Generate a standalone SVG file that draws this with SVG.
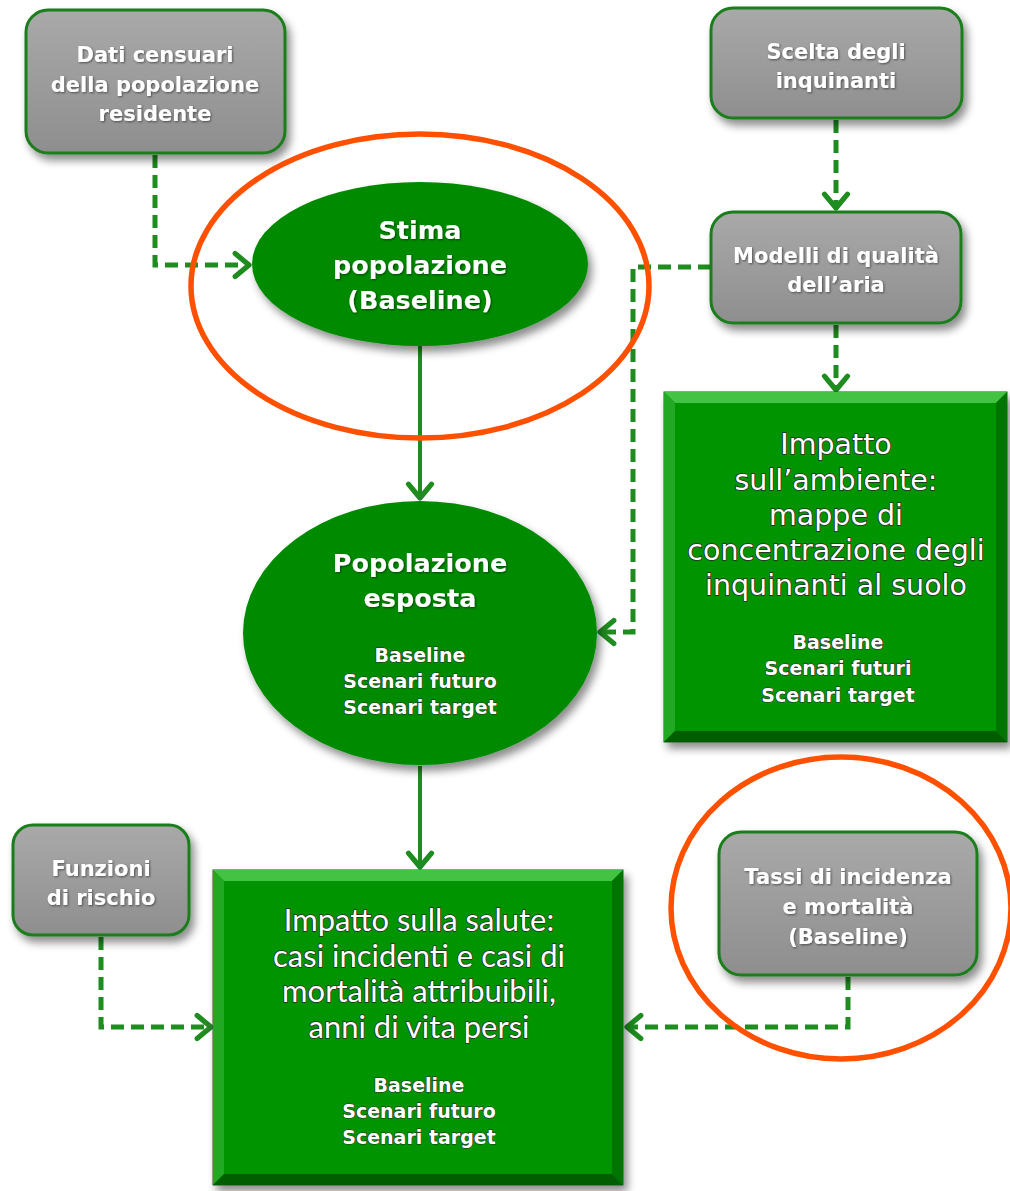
<svg xmlns="http://www.w3.org/2000/svg" width="1010" height="1191" viewBox="0 0 1010 1191">
<style>
.gray{fill:url(#gg);stroke:#1b7d1b;stroke-width:3}
.t{font-family:"DejaVu Sans",Verdana,sans-serif;fill:#fff;text-anchor:middle}
.gt{font-size:21px;font-weight:bold}
.et{font-size:25.5px;font-weight:bold}
.bt{font-size:28.5px;stroke:#2a2a2a;stroke-width:1.6px;paint-order:stroke}
.lt{font-size:19px;font-weight:bold;stroke:#2a2a2a;stroke-width:1.1px;paint-order:stroke}
.st{font-family:Lato,"Open Sans",sans-serif;fill:#fff;text-anchor:middle;font-size:31px;stroke:#2a2a2a;stroke-width:1.5px;paint-order:stroke}
.dash{fill:none;stroke:#1e8c1e;stroke-width:5;stroke-dasharray:13 7}
.solid{fill:none;stroke:#1e8c1e;stroke-width:4}
.red{fill:none;stroke:#ff5000;stroke-width:5.5}
</style>
<defs>
<linearGradient id="gg" x1="0" y1="0" x2="0" y2="1">
<stop offset="0" stop-color="#a9a9a9"/>
<stop offset="0.5" stop-color="#9c9c9c"/>
<stop offset="1" stop-color="#8e8e8e"/>
</linearGradient>
<filter id="sh" x="-20%" y="-20%" width="150%" height="150%">
<feDropShadow dx="4" dy="6" stdDeviation="4" flood-color="#000" flood-opacity="0.45"/>
</filter>
<filter id="tsh" x="-10%" y="-20%" width="120%" height="150%">
<feDropShadow dx="1" dy="1" stdDeviation="1" flood-color="#000" flood-opacity="0.5"/>
</filter>
<marker id="ar" markerUnits="userSpaceOnUse" markerWidth="30" markerHeight="30" viewBox="-16 -13 20 26" refX="0" refY="0" orient="auto">
<path d="M-12,-10 L0,0 L-12,10" fill="none" stroke="#1e8c1e" stroke-width="4.5" stroke-linecap="round" stroke-linejoin="round" stroke-dasharray="none"/>
</marker>
</defs>
<rect width="1010" height="1191" fill="#fff"/>

<g id="connectors">
<path class="dash" d="M155,155 V265 H249" marker-end="url(#ar)"/>
<path class="dash" d="M836,120 V208" marker-end="url(#ar)"/>
<path class="dash" d="M711,267 H633 V632 H600" marker-end="url(#ar)"/>
<path class="dash" d="M836,325 V390" marker-end="url(#ar)"/>
<path class="solid" d="M420,346 V498" marker-end="url(#ar)"/>
<path class="solid" d="M420,766 V867" marker-end="url(#ar)"/>
<path class="dash" d="M101,937 V1027 H211" marker-end="url(#ar)"/>
<path class="dash" d="M848,977 V1027 H627" marker-end="url(#ar)"/>
</g>

<g id="dati-censuari">
<rect class="gray" x="26" y="10" width="259" height="143" rx="22" filter="url(#sh)"/>
<g class="t gt" filter="url(#tsh)">
<text x="155" y="62">Dati censuari</text>
<text x="155" y="92">della popolazione</text>
<text x="155" y="121">residente</text>
</g>
</g>

<g id="scelta-inquinanti">
<rect class="gray" x="711" y="8" width="251" height="110" rx="22" filter="url(#sh)"/>
<g class="t gt" filter="url(#tsh)">
<text x="836" y="59">Scelta degli</text>
<text x="836" y="88">inquinanti</text>
</g>
</g>

<g id="modelli-aria">
<rect class="gray" x="711" y="212" width="250" height="111" rx="22" filter="url(#sh)"/>
<g class="t gt" filter="url(#tsh)">
<text x="836" y="263">Modelli di qualità</text>
<text x="836" y="292">dell’aria</text>
</g>
</g>

<g id="stima-popolazione">
<ellipse cx="420" cy="264" rx="168" ry="82" fill="#008a00" filter="url(#sh)"/>
<g class="t et" filter="url(#tsh)">
<text x="420" y="239">Stima</text>
<text x="420" y="274">popolazione</text>
<text x="420" y="309">(Baseline)</text>
</g>
</g>

<g id="popolazione-esposta">
<ellipse cx="420" cy="633" rx="177" ry="132" fill="#008a00" filter="url(#sh)"/>
<g class="t et" filter="url(#tsh)">
<text x="420" y="572">Popolazione</text>
<text x="420" y="607">esposta</text>
</g>
<g class="t lt">
<text x="420" y="662">Baseline</text>
<text x="420" y="688">Scenari futuro</text>
<text x="420" y="714">Scenari target</text>
</g>
</g>

<g id="impatto-ambiente">
<g filter="url(#sh)">
<rect x="664" y="392" width="343" height="350" fill="#008c00" stroke="#2f4f2f" stroke-width="1"/>
</g>
<polygon points="664,392 1007,392 996,403 675,403" fill="#44c244"/>
<polygon points="664,392 675,403 675,731 664,742" fill="#22a822"/>
<polygon points="1007,392 1007,742 996,731 996,403" fill="#007400"/>
<polygon points="664,742 1007,742 996,731 675,731" fill="#005e00"/>
<rect x="675" y="403" width="321" height="328" fill="#009400"/>
<g class="t bt">
<text x="836" y="454">Impatto</text>
<text x="836" y="490">sull’ambiente:</text>
<text x="836" y="525">mappe di</text>
<text x="836" y="560">concentrazione degli</text>
<text x="836" y="595">inquinanti al suolo</text>
</g>
<g class="t lt">
<text x="838" y="649">Baseline</text>
<text x="838" y="675">Scenari futuri</text>
<text x="838" y="702">Scenari target</text>
</g>
</g>

<g id="funzioni-rischio">
<rect class="gray" x="13" y="825" width="176" height="110" rx="20" filter="url(#sh)"/>
<g class="t gt" filter="url(#tsh)">
<text x="101" y="876">Funzioni</text>
<text x="101" y="905">di rischio</text>
</g>
</g>

<g id="impatto-salute">
<g filter="url(#sh)">
<rect x="213" y="870" width="410" height="315" fill="#008c00" stroke="#2f4f2f" stroke-width="1"/>
</g>
<polygon points="213,870 623,870 612,881 224,881" fill="#44c244"/>
<polygon points="213,870 224,881 224,1174 213,1185" fill="#22a822"/>
<polygon points="623,870 623,1185 612,1174 612,881" fill="#007400"/>
<polygon points="213,1185 623,1185 612,1174 224,1174" fill="#005e00"/>
<rect x="224" y="881" width="388" height="293" fill="#009400"/>
<g class="st">
<text x="419" y="931">Impatto sulla salute:</text>
<text x="419" y="967">casi incidenti e casi di</text>
<text x="419" y="1002">mortalità attribuibili,</text>
<text x="419" y="1038">anni di vita persi</text>
</g>
<g class="t lt">
<text x="419" y="1092">Baseline</text>
<text x="419" y="1118">Scenari futuro</text>
<text x="419" y="1144">Scenari target</text>
</g>
</g>

<g id="tassi-incidenza">
<rect class="gray" x="719" y="832" width="258" height="143" rx="22" filter="url(#sh)"/>
<g class="t gt" filter="url(#tsh)">
<text x="848" y="884">Tassi di incidenza</text>
<text x="848" y="914">e mortalità</text>
<text x="848" y="944">(Baseline)</text>
</g>
</g>

<g id="highlights">
<ellipse class="red" cx="420" cy="286" rx="229" ry="152"/>
<ellipse class="red" cx="841" cy="908" rx="170" ry="151"/>
</g>
</svg>
